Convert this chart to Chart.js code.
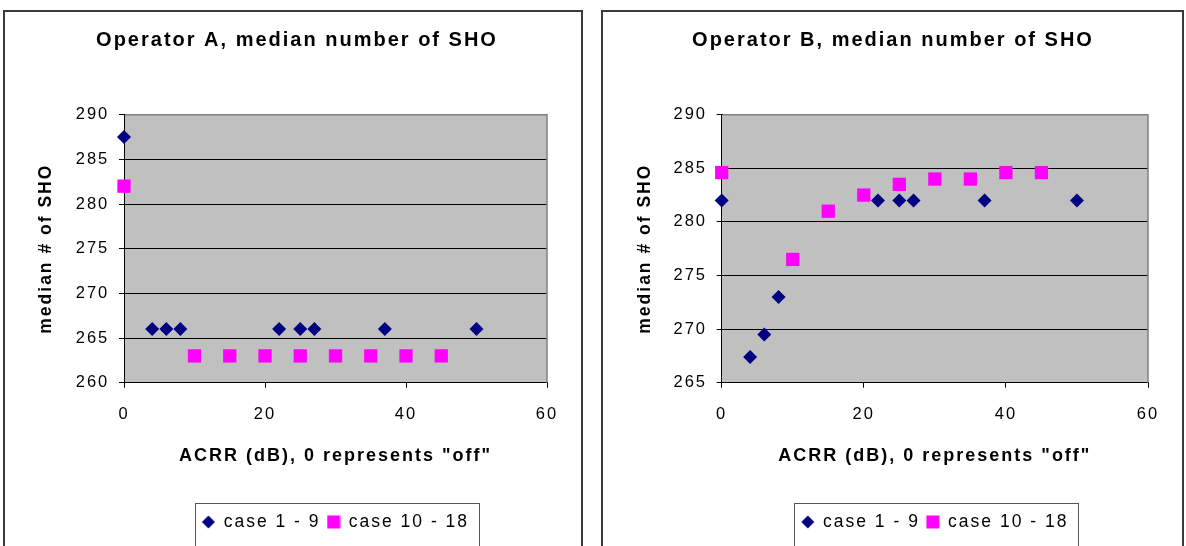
<!DOCTYPE html>
<html>
  <head>
    <meta charset="utf-8" />
    <script src="https://cdn.jsdelivr.net/npm/chart.js"></script>
    <title>Median number of SHO</title>
    <style>
      body { margin: 0; background: #fff; overflow: hidden; }
      .panel { position: absolute; top: 10px; height: 560px; border: 2px solid #3a3a3a; }
      .panel canvas { display: block; }
    </style>
  </head>
  <body>
    <div class="panel" style="left: 3px; width: 576px">
      <canvas id="chartA" width="576" height="534"></canvas>
    </div>
    <div class="panel" style="left: 601px; width: 579px">
      <canvas id="chartB" width="579" height="534"></canvas>
    </div>

    <script>
      // series names
      var seriesNames = ["case 1 - 9", "case 10 - 18"];

      // ACRR (dB) for each case group
      var acrrCase1to9 = [0, 4, 6, 8, 22, 25, 27, 37, 50];
      var acrrCase10to18 = [0, 10, 15, 20, 25, 30, 35, 40, 45];

      // Operator A
      var shoA1 = [287.5, 266, 266, 266, 266, 266, 266, 266, 266];
      var shoA2 = [282, 263, 263, 263, 263, 263, 263, 263, 263];

      // Operator B
      var shoB1 = [282, 267.4, 269.5, 273, 282, 282, 282, 282, 282];
      var shoB2 = [284.6, 276.5, 281, 282.5, 283.5, 284, 284, 284.6, 284.6];

      // axis ranges
      var xRange = [0, 60, 20];
      var yRangeA = [260, 290, 5];
      var yRangeB = [265, 290, 5];

      Chart.defaults.color = "#000";
      Chart.defaults.font.family = "'Liberation Sans', Arial, sans-serif";

      function toPoints(xs, ys) {
        return xs.map(function (x, i) {
          return { x: x, y: ys[i] };
        });
      }

      // small legend markers
      function marker(kind, color) {
        var c = document.createElement("canvas");
        c.width = 14;
        c.height = 14;
        var g = c.getContext("2d");
        g.fillStyle = color;
        if (kind == "diamond") {
          g.beginPath();
          g.moveTo(7, 0.5);
          g.lineTo(13.5, 7);
          g.lineTo(7, 13.5);
          g.lineTo(0.5, 7);
          g.closePath();
          g.fill();
        } else {
          g.fillRect(0.5, 0.5, 13, 13);
        }
        return c;
      }
      var legendMarks = [marker("diamond", "#000080"), marker("square", "#FF00FF")];

      // grey plot area, letter spacing, legend frame
      var decor = {
        id: "decor",
        beforeLayout: function (chart) {
          chart.ctx.letterSpacing = "2px";
        },
        beforeDraw: function (chart) {
          var ctx = chart.ctx;
          var a = chart.chartArea;
          ctx.letterSpacing = "2px";
          ctx.save();
          ctx.fillStyle = "#C0C0C0";
          ctx.fillRect(a.left, a.top, a.right - a.left, a.bottom - a.top);
          ctx.restore();
        },
        beforeDatasetsDraw: function (chart) {
          var ctx = chart.ctx;
          var a = chart.chartArea;
          ctx.save();
          ctx.strokeStyle = "#808080";
          ctx.lineWidth = 1.5;
          ctx.beginPath();
          ctx.moveTo(a.left + 1, a.top);
          ctx.lineTo(a.right, a.top);
          ctx.lineTo(a.right, a.bottom);
          ctx.stroke();
          ctx.restore();
        },
        afterDraw: function (chart) {
          var hb = chart.legend.legendHitBoxes;
          if (!hb || !hb.length) return;
          var first = hb[0];
          var last = hb[hb.length - 1];
          var ctx = chart.ctx;
          ctx.save();
          ctx.strokeStyle = "#555";
          ctx.lineWidth = 1;
          var x0 = Math.round(first.left - 7) + 0.5;
          var x1 = Math.round(last.left + last.width + 10) + 0.5;
          var y0 = Math.round(first.top + first.height / 2 - 19) + 0.5;
          ctx.strokeRect(x0, y0, x1 - x0, chart.height + 20 - y0);
          ctx.restore();
        },
      };

      function createGraph(elementId, title, ys1, ys2, yRange, lay) {
        var ctx = document.getElementById(elementId).getContext("2d");
        return new Chart(ctx, {
          type: "scatter",
          data: {
            datasets: [
              {
                label: seriesNames[0],
                data: toPoints(acrrCase1to9, ys1),
                pointStyle: "rectRot",
                pointRadius: 7,
                pointHoverRadius: 7,
                borderWidth: 0,
                backgroundColor: "#000080",
                borderColor: "#000080",
                clip: false,
              },
              {
                label: seriesNames[1],
                data: toPoints(acrrCase10to18, ys2),
                pointStyle: "rect",
                pointRadius: 9.4,
                pointHoverRadius: 9.4,
                borderWidth: 0,
                backgroundColor: "#FF00FF",
                borderColor: "#FF00FF",
                clip: false,
              },
            ],
          },
          options: {
            responsive: false,
            animation: false,
            devicePixelRatio: 1,
            layout: { padding: { left: lay.padLeft, right: 0, top: 0, bottom: 5.25 } },
            plugins: {
              tooltip: { enabled: false },
              title: {
                display: true,
                text: title,
                font: { size: 20, weight: "bold" },
                padding: { top: 16, bottom: 62.7 },
              },
              legend: {
                position: "bottom",
                fullSize: false,
                labels: {
                  usePointStyle: true,
                  boxWidth: 13,
                  boxHeight: 13,
                  padding: 6.5,
                  font: { size: 17.5 },
                  generateLabels: function (chart) {
                    var items = Chart.defaults.plugins.legend.labels.generateLabels(chart);
                    items.forEach(function (it, i) {
                      it.pointStyle = legendMarks[i];
                    });
                    return items;
                  },
                },
              },
            },
            scales: {
              x: {
                type: "linear",
                min: xRange[0],
                max: xRange[1],
                ticks: { stepSize: xRange[2], padding: 16.4, font: { size: 16.5 } },
                grid: { drawOnChartArea: false, tickLength: 5, color: "#000" },
                border: { color: "#000", width: 1 },
                title: {
                  display: true,
                  text: 'ACRR (dB), 0 represents "off"',
                  font: { size: 18, weight: "bold" },
                  padding: { top: 0, bottom: 39.95 },
                },
                afterFit: function (s) {
                  s.height = 124.05;
                },
              },
              y: {
                min: yRange[0],
                max: yRange[1],
                ticks: { stepSize: yRange[2], padding: 9.7, font: { size: 16.5 } },
                grid: { color: "#000", lineWidth: 1, tickLength: 5 },
                border: { color: "#000", width: 1 },
                title: {
                  display: true,
                  text: "median # of SHO",
                  font: { size: 17.5, weight: "bold" },
                  padding: { top: lay.yTitlePad, bottom: 0 },
                },
                afterFit: function (s) {
                  s.width = lay.yWidth;
                },
              },
              y2: {
                type: "linear",
                position: "right",
                display: true,
                ticks: { display: false },
                grid: { display: false },
                border: { display: false },
                afterFit: function (s) {
                  s.width = 34;
                },
              },
            },
          },
          plugins: [decor],
        });
      }

      createGraph("chartA", "Operator A, median number of SHO", shoA1, shoA2, yRangeA, {
        padLeft: 8,
        yWidth: 111,
        yTitlePad: 22.5,
      });
      createGraph("chartB", "Operator B, median number of SHO", shoB1, shoB2, yRangeB, {
        padLeft: 1,
        yWidth: 117.7,
        yTitlePad: 30.5,
      });
    </script>
  </body>
</html>
